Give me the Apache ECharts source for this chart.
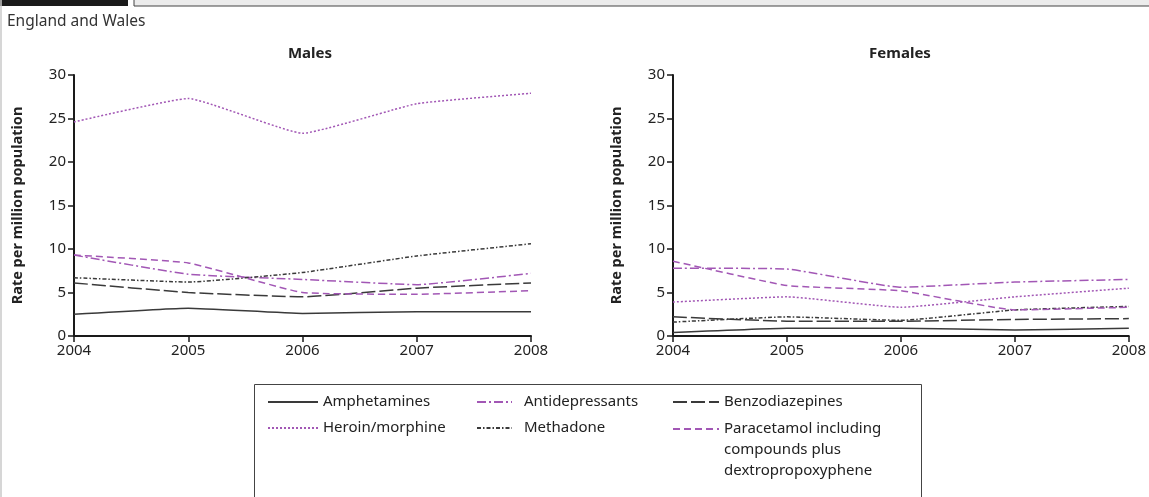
<!DOCTYPE html>
<html>
<head>
<meta charset="utf-8">
<script src="https://cdn.jsdelivr.net/npm/echarts@6/dist/echarts.min.js"></script>
<style>
  html, body { margin: 0; padding: 0; background: #fff; }
  #chart { width: 1149px; height: 497px; }
</style>
</head>
<body>
<div id="chart"></div>
<script>
// years on the x axis
var years = ['2004', '2005', '2006', '2007', '2008'];
var yTicks = [0, 5, 10, 15, 20, 25, 30];

// rate per million population, males
var malesAmphetamines = [2.5, 3.2, 2.6, 2.8, 2.8];
var malesAntidepressants = [9.3, 7.1, 6.5, 5.9, 7.2];
var malesBenzodiazepines = [6.1, 5.0, 4.5, 5.5, 6.1];
var malesHeroin = [24.6, 27.3, 23.3, 26.7, 27.9];
var malesMethadone = [6.7, 6.2, 7.3, 9.2, 10.6];
var malesParacetamol = [9.3, 8.4, 5.0, 4.8, 5.2];

// rate per million population, females
var femalesAmphetamines = [0.4, 0.9, 0.9, 0.7, 0.9];
var femalesAntidepressants = [7.8, 7.7, 5.6, 6.2, 6.5];
var femalesBenzodiazepines = [2.2, 1.7, 1.7, 1.9, 2.0];
var femalesHeroin = [3.9, 4.5, 3.3, 4.5, 5.5];
var femalesMethadone = [1.6, 2.2, 1.8, 3.0, 3.4];
var femalesParacetamol = [8.6, 5.8, 5.2, 3.0, 3.3];

var PURPLE = '#a257b5';
var DARK = '#3a3a3a';
var FONT = '"Noto Sans", sans-serif';

var drugs = [
  { name: 'Amphetamines', color: DARK, dash: 'solid', males: malesAmphetamines, females: femalesAmphetamines },
  { name: 'Antidepressants', color: PURPLE, dash: [9, 3, 2, 3], males: malesAntidepressants, females: femalesAntidepressants },
  { name: 'Benzodiazepines', color: DARK, dash: [14, 4], males: malesBenzodiazepines, females: femalesBenzodiazepines },
  { name: 'Heroin/morphine', color: PURPLE, dash: [2, 2], males: malesHeroin, females: femalesHeroin },
  { name: 'Methadone', color: DARK, dash: [4, 2, 1.5, 2], males: malesMethadone, females: femalesMethadone },
  { name: 'Paracetamol including compounds plus dextropropoxyphene', color: PURPLE, dash: [7, 4], males: malesParacetamol, females: femalesParacetamol }
];

function xAxis(gridIndex) {
  return {
    type: 'category', gridIndex: gridIndex, data: years, boundaryGap: false,
    axisLine: { lineStyle: { color: '#1a1a1a', width: 2 } },
    axisTick: { inside: false, length: 6, lineStyle: { color: '#1a1a1a', width: 1.5 } },
    axisLabel: { color: '#222', fontFamily: FONT, fontSize: 15, margin: 7 },
    splitLine: { show: false }
  };
}
function yAxis(gridIndex) {
  return {
    type: 'value', gridIndex: gridIndex, min: yTicks[0], max: yTicks[yTicks.length - 1], interval: 5,
    name: 'Rate per million population', nameLocation: 'middle', nameGap: 49,
    nameTextStyle: { color: '#222', fontFamily: FONT, fontSize: 14.5, fontWeight: 'bold' },
    axisLine: { show: true, lineStyle: { color: '#1a1a1a', width: 2 } },
    axisTick: { show: true, length: 6, lineStyle: { color: '#1a1a1a', width: 1.5 } },
    axisLabel: { color: '#222', fontFamily: FONT, fontSize: 15, margin: 8 },
    splitLine: { show: false }
  };
}

var series = [];
drugs.forEach(function (d) {
  ['males', 'females'].forEach(function (sex, i) {
    series.push({
      name: d.name, type: 'line', xAxisIndex: i, yAxisIndex: i,
      data: d[sex], symbol: 'none', showSymbol: false, smooth: 0.12, silent: true,
      lineStyle: { color: d.color, width: 1.5, type: d.dash },
      itemStyle: { color: d.color }
    });
  });
});

var legendText = { color: '#222', fontFamily: FONT, fontSize: 15, lineHeight: 21 };
// one legend block per entry so the three columns can be placed like the original
function legendItem(name, left, iconCenterY, width, extraText, linesAbove) {
  return {
    data: [{ name: name, icon: 'inherit' }], left: left,
    top: iconCenterY - 10.5 - (linesAbove || 0) * 21,
    orient: 'vertical', padding: 0, itemWidth: width, itemHeight: 21, itemGap: 0,
    selectedMode: false, itemStyle: { opacity: 0 },
    textStyle: Object.assign({}, legendText, extraText || {})
  };
}

var legends = [
  legendItem('Amphetamines', 267, 402, 50),
  legendItem('Heroin/morphine', 267, 428, 50),
  legendItem('Antidepressants', 476, 402, 35, { padding: [0, 0, 0, 7] }),
  legendItem('Methadone', 476, 428, 35, { padding: [0, 0, 0, 7] }),
  legendItem('Benzodiazepines', 672, 402, 46),
  legendItem('Paracetamol including compounds plus dextropropoxyphene', 672, 429, 46, null, 2)
];
// two blank lines above keep the icon level with the first line of the wrapped label
legends[5].formatter = function () {
  return '\n\nParacetamol including\ncompounds plus\ndextropropoxyphene';
};

var chart = echarts.init(document.getElementById('chart'));
chart.setOption({
  animation: false,
  backgroundColor: '#fff',
  title: [
    { text: 'England and Wales', left: 7, top: 14, padding: 0,
      textStyle: { fontFamily: FONT, fontSize: 15.5, fontWeight: 'normal', color: '#333' } },
    { text: 'Males', left: 310, top: 46, padding: 0, textAlign: 'center',
      textStyle: { fontFamily: FONT, fontSize: 15, fontWeight: 'bold', color: '#222' } },
    { text: 'Females', left: 900, top: 46, padding: 0, textAlign: 'center',
      textStyle: { fontFamily: FONT, fontSize: 15, fontWeight: 'bold', color: '#222' } }
  ],
  grid: [
    { left: 74, right: 618, top: 75, bottom: 161 },
    { left: 673, right: 19, top: 75, bottom: 161 }
  ],
  xAxis: [xAxis(0), xAxis(1)],
  yAxis: [yAxis(0), yAxis(1)],
  legend: legends,
  series: series,
  graphic: [
    { type: 'rect', shape: { x: 0, y: 0, width: 128, height: 6 }, style: { fill: '#1a1a1a' } },
    { type: 'rect', shape: { x: 134, y: -2, width: 1020, height: 8 }, style: { fill: '#ececec', stroke: '#444', lineWidth: 1 } },
    { type: 'line', shape: { x1: 1, y1: 0, x2: 1, y2: 497 }, style: { stroke: '#c8c8c8', lineWidth: 1.5 } },
    { type: 'rect', shape: { x: 254.5, y: 384.5, width: 667, height: 130 }, style: { fill: 'none', stroke: '#444', lineWidth: 1 } }
  ]
});
</script>
</body>
</html>
